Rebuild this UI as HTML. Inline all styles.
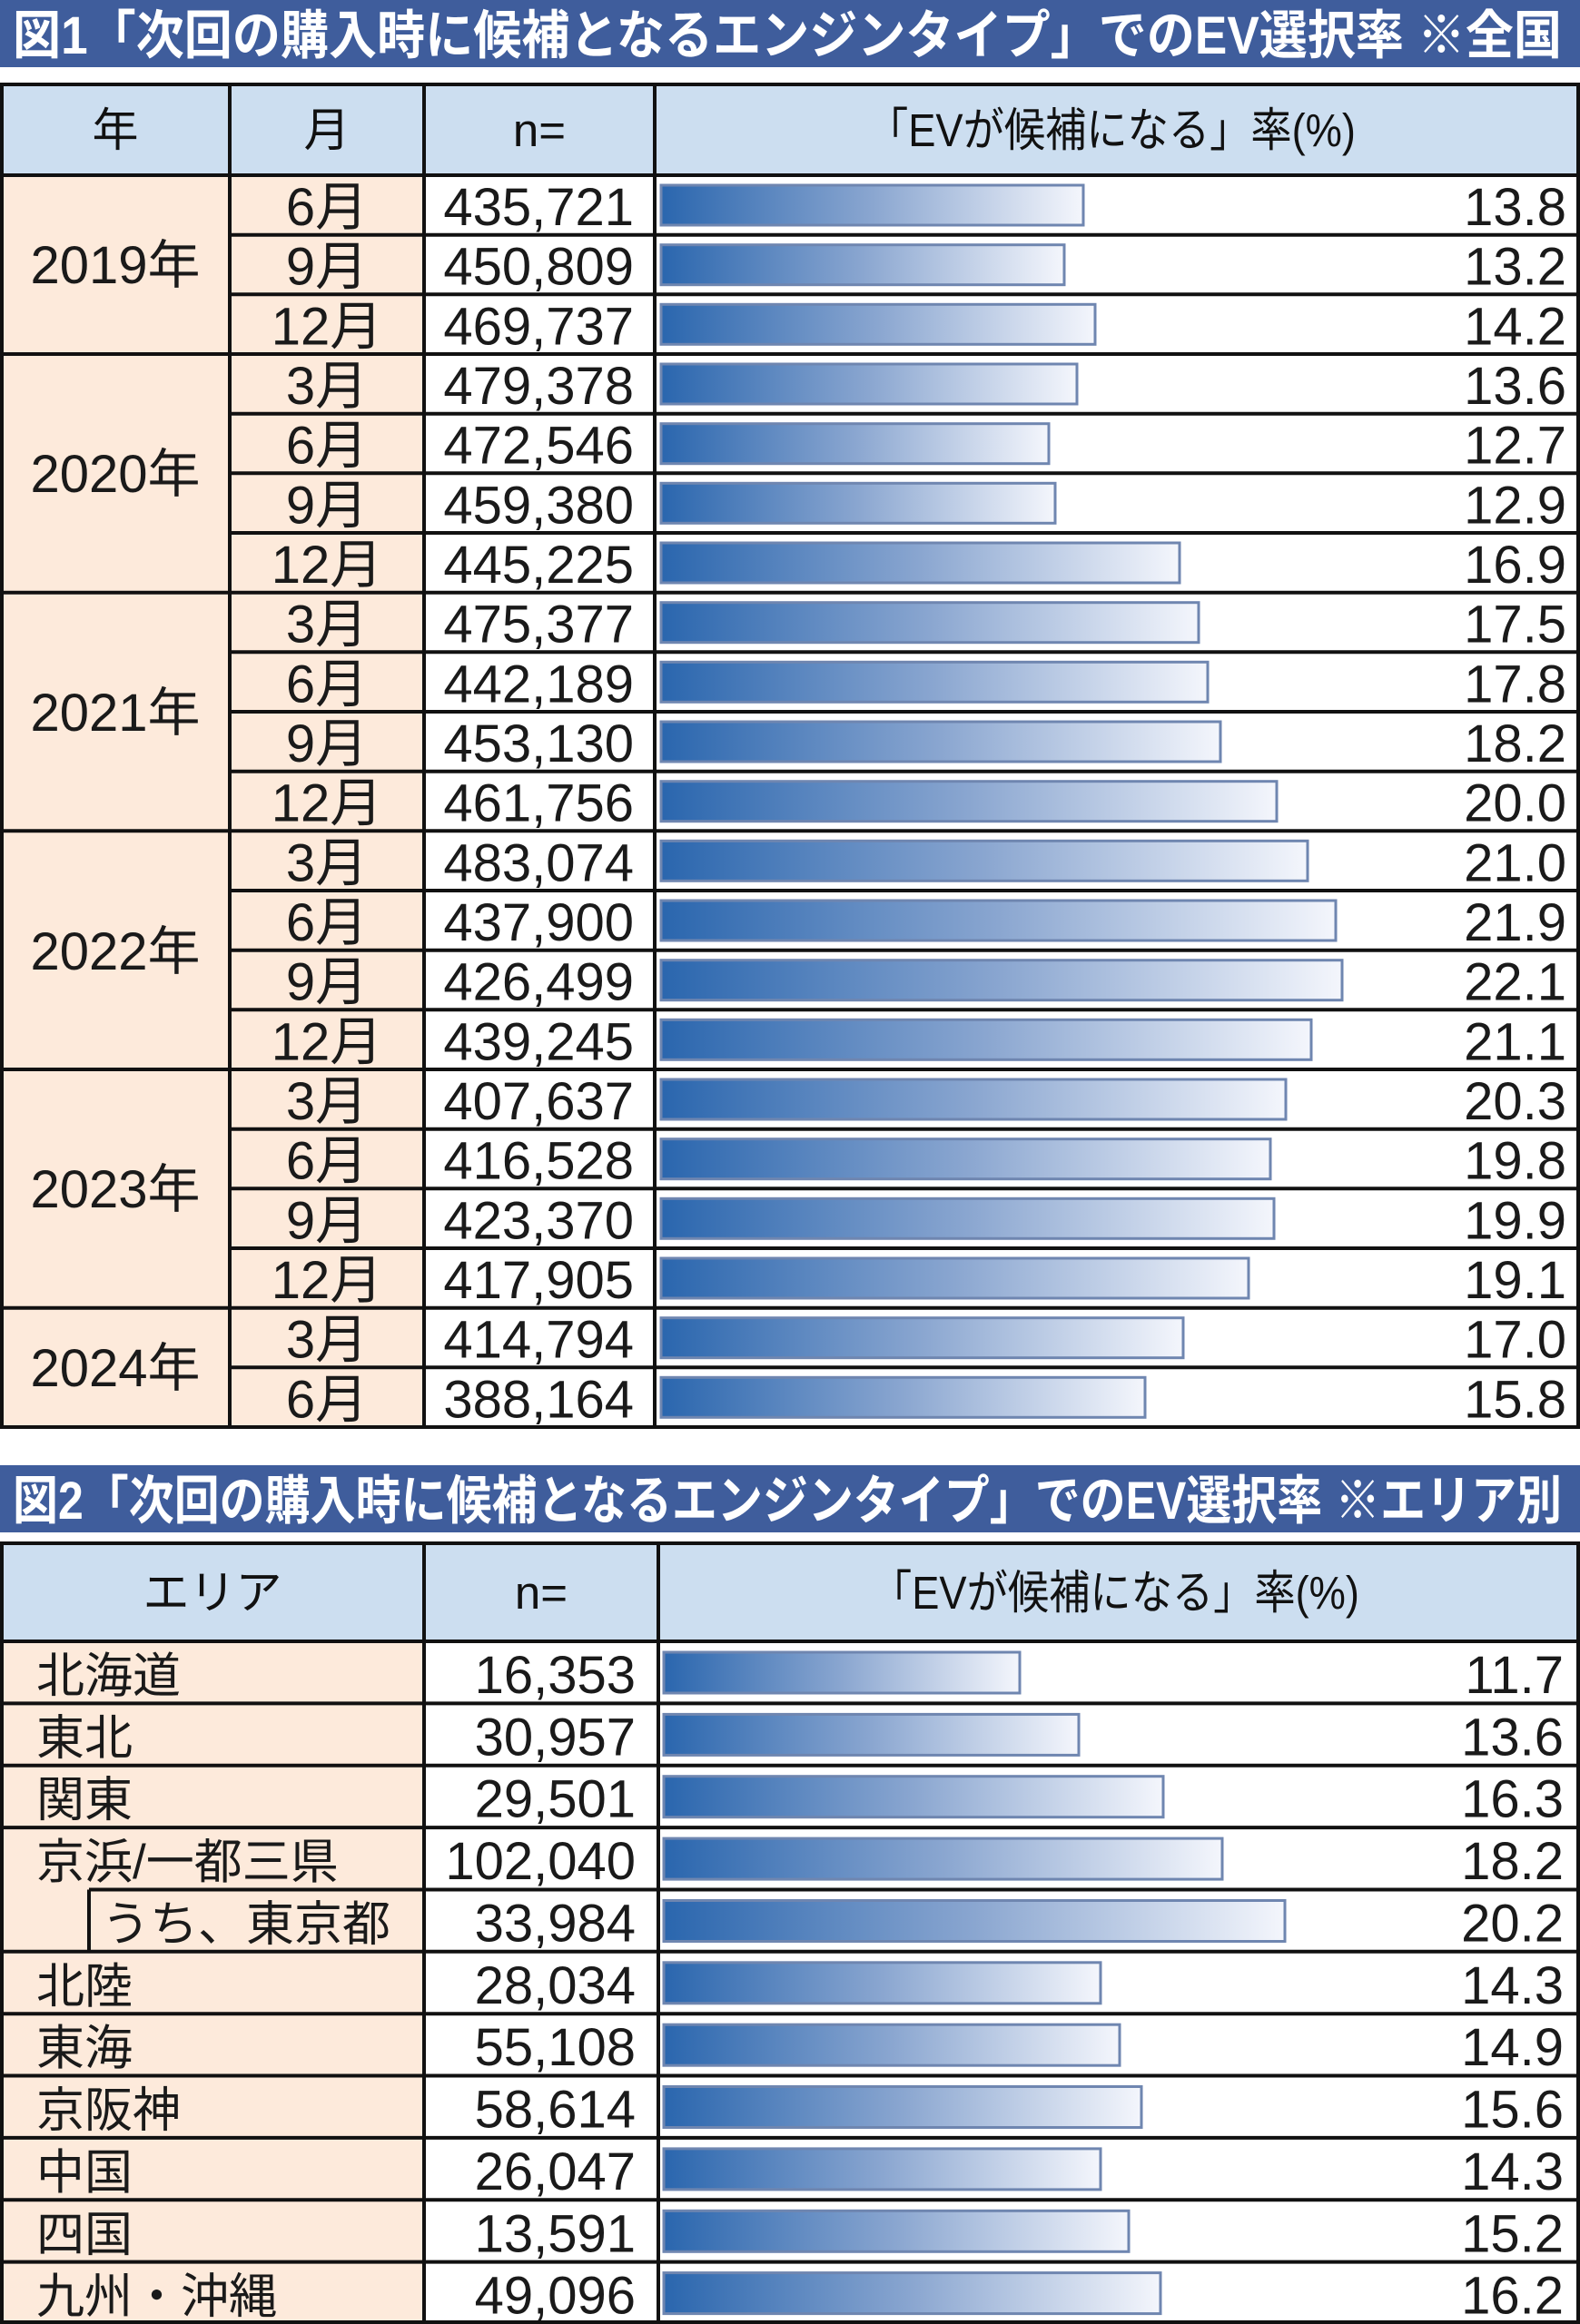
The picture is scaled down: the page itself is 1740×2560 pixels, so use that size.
<!DOCTYPE html>
<html><head><meta charset="utf-8"><style>
html,body{margin:0;padding:0;background:#fff}
svg{display:block}
.t{font-family:"Liberation Sans","Noto Sans CJK JP",sans-serif;font-weight:bold;fill:#fff;font-size:58px}
.h{font-family:"Liberation Sans","Noto Sans CJK JP",sans-serif;font-size:51px;fill:#111}
.n{font-family:"Liberation Sans","Noto Sans CJK JP",sans-serif;font-size:58px;fill:#1a1a1a}
.c{font-family:"Liberation Sans","Noto Sans CJK JP",sans-serif;font-size:53px;fill:#1a1a1a}
.bar{fill:url(#g);stroke:#6f86b0;stroke-width:3}
.m{text-anchor:middle}.r{text-anchor:end}
</style></head><body>
<svg width="1740" height="2560" viewBox="0 0 1740 2560" xmlns="http://www.w3.org/2000/svg">
<defs><linearGradient id="g" x1="0" x2="1" y1="0" y2="0"><stop offset="0" stop-color="#2a66ae"/><stop offset="0.5" stop-color="#8aa6d0"/><stop offset="1" stop-color="#f4f6fc"/></linearGradient></defs>

<!-- FIG 1 -->
<rect x="0" y="0" width="1740" height="74" fill="#3f5d9c"/>
<text class="t" x="14" y="59" textLength="1706" lengthAdjust="spacingAndGlyphs">図1「次回の購入時に候補となるエンジンタイプ」でのEV選択率 ※全国</text>
<rect x="2" y="93" width="1736" height="100" fill="#ccdef0"/>
<rect x="2" y="193" width="465" height="1379" fill="#fdeadb"/>
<rect x="467" y="193" width="1271" height="1379" fill="#fff"/>
<text class="h m" x="127" y="161">年</text>
<text class="h m" x="360" y="161">月</text>
<text class="h m" x="594" y="161">n=</text>
<text class="h m" x="1224" y="161" textLength="538" lengthAdjust="spacingAndGlyphs">「EVが候補になる」率(%)</text>

<g transform="translate(0,193)"><text class="n m" x="360" y="55">6月</text><text class="n r" x="698" y="55">435,721</text><rect class="bar" x="728" y="11" width="465" height="44"/><text class="n r" x="1725" y="55">13.8</text></g>
<g transform="translate(0,258.7)"><text class="n m" x="360" y="55">9月</text><text class="n r" x="698" y="55">450,809</text><rect class="bar" x="728" y="11" width="444" height="44"/><text class="n r" x="1725" y="55">13.2</text></g>
<g transform="translate(0,324.3)"><text class="n m" x="360" y="55">12月</text><text class="n r" x="698" y="55">469,737</text><rect class="bar" x="728" y="11" width="478" height="44"/><text class="n r" x="1725" y="55">14.2</text></g>
<g transform="translate(0,390)"><text class="n m" x="360" y="55">3月</text><text class="n r" x="698" y="55">479,378</text><rect class="bar" x="728" y="11" width="458" height="44"/><text class="n r" x="1725" y="55">13.6</text></g>
<g transform="translate(0,455.7)"><text class="n m" x="360" y="55">6月</text><text class="n r" x="698" y="55">472,546</text><rect class="bar" x="728" y="11" width="427" height="44"/><text class="n r" x="1725" y="55">12.7</text></g>
<g transform="translate(0,521.3)"><text class="n m" x="360" y="55">9月</text><text class="n r" x="698" y="55">459,380</text><rect class="bar" x="728" y="11" width="434" height="44"/><text class="n r" x="1725" y="55">12.9</text></g>
<g transform="translate(0,587)"><text class="n m" x="360" y="55">12月</text><text class="n r" x="698" y="55">445,225</text><rect class="bar" x="728" y="11" width="571" height="44"/><text class="n r" x="1725" y="55">16.9</text></g>
<g transform="translate(0,652.7)"><text class="n m" x="360" y="55">3月</text><text class="n r" x="698" y="55">475,377</text><rect class="bar" x="728" y="11" width="592" height="44"/><text class="n r" x="1725" y="55">17.5</text></g>
<g transform="translate(0,718.3)"><text class="n m" x="360" y="55">6月</text><text class="n r" x="698" y="55">442,189</text><rect class="bar" x="728" y="11" width="602" height="44"/><text class="n r" x="1725" y="55">17.8</text></g>
<g transform="translate(0,784)"><text class="n m" x="360" y="55">9月</text><text class="n r" x="698" y="55">453,130</text><rect class="bar" x="728" y="11" width="616" height="44"/><text class="n r" x="1725" y="55">18.2</text></g>
<g transform="translate(0,849.7)"><text class="n m" x="360" y="55">12月</text><text class="n r" x="698" y="55">461,756</text><rect class="bar" x="728" y="11" width="678" height="44"/><text class="n r" x="1725" y="55">20.0</text></g>
<g transform="translate(0,915.3)"><text class="n m" x="360" y="55">3月</text><text class="n r" x="698" y="55">483,074</text><rect class="bar" x="728" y="11" width="712" height="44"/><text class="n r" x="1725" y="55">21.0</text></g>
<g transform="translate(0,981)"><text class="n m" x="360" y="55">6月</text><text class="n r" x="698" y="55">437,900</text><rect class="bar" x="728" y="11" width="743" height="44"/><text class="n r" x="1725" y="55">21.9</text></g>
<g transform="translate(0,1046.7)"><text class="n m" x="360" y="55">9月</text><text class="n r" x="698" y="55">426,499</text><rect class="bar" x="728" y="11" width="750" height="44"/><text class="n r" x="1725" y="55">22.1</text></g>
<g transform="translate(0,1112.3)"><text class="n m" x="360" y="55">12月</text><text class="n r" x="698" y="55">439,245</text><rect class="bar" x="728" y="11" width="716" height="44"/><text class="n r" x="1725" y="55">21.1</text></g>
<g transform="translate(0,1178)"><text class="n m" x="360" y="55">3月</text><text class="n r" x="698" y="55">407,637</text><rect class="bar" x="728" y="11" width="688" height="44"/><text class="n r" x="1725" y="55">20.3</text></g>
<g transform="translate(0,1243.7)"><text class="n m" x="360" y="55">6月</text><text class="n r" x="698" y="55">416,528</text><rect class="bar" x="728" y="11" width="671" height="44"/><text class="n r" x="1725" y="55">19.8</text></g>
<g transform="translate(0,1309.3)"><text class="n m" x="360" y="55">9月</text><text class="n r" x="698" y="55">423,370</text><rect class="bar" x="728" y="11" width="675" height="44"/><text class="n r" x="1725" y="55">19.9</text></g>
<g transform="translate(0,1375)"><text class="n m" x="360" y="55">12月</text><text class="n r" x="698" y="55">417,905</text><rect class="bar" x="728" y="11" width="647" height="44"/><text class="n r" x="1725" y="55">19.1</text></g>
<g transform="translate(0,1440.7)"><text class="n m" x="360" y="55">3月</text><text class="n r" x="698" y="55">414,794</text><rect class="bar" x="728" y="11" width="575" height="44"/><text class="n r" x="1725" y="55">17.0</text></g>
<g transform="translate(0,1506.3)"><text class="n m" x="360" y="55">6月</text><text class="n r" x="698" y="55">388,164</text><rect class="bar" x="728" y="11" width="533" height="44"/><text class="n r" x="1725" y="55">15.8</text></g>

<text class="n m" x="127" y="312">2019年</text>
<text class="n m" x="127" y="542">2020年</text>
<text class="n m" x="127" y="805">2021年</text>
<text class="n m" x="127" y="1068">2022年</text>
<text class="n m" x="127" y="1330">2023年</text>
<text class="n m" x="127" y="1527">2024年</text>

<g stroke="#111" stroke-width="4" fill="none">
<rect x="2" y="93" width="1736" height="1479"/>
<line x1="0" y1="193" x2="1740" y2="193"/>
<line x1="253" y1="258.7" x2="1740" y2="258.7"/>
<line x1="253" y1="324.3" x2="1740" y2="324.3"/>
<line x1="0" y1="390" x2="1740" y2="390"/>
<line x1="253" y1="455.7" x2="1740" y2="455.7"/>
<line x1="253" y1="521.3" x2="1740" y2="521.3"/>
<line x1="253" y1="587" x2="1740" y2="587"/>
<line x1="0" y1="652.7" x2="1740" y2="652.7"/>
<line x1="253" y1="718.3" x2="1740" y2="718.3"/>
<line x1="253" y1="784" x2="1740" y2="784"/>
<line x1="253" y1="849.7" x2="1740" y2="849.7"/>
<line x1="0" y1="915.3" x2="1740" y2="915.3"/>
<line x1="253" y1="981" x2="1740" y2="981"/>
<line x1="253" y1="1046.7" x2="1740" y2="1046.7"/>
<line x1="253" y1="1112.3" x2="1740" y2="1112.3"/>
<line x1="0" y1="1178" x2="1740" y2="1178"/>
<line x1="253" y1="1243.7" x2="1740" y2="1243.7"/>
<line x1="253" y1="1309.3" x2="1740" y2="1309.3"/>
<line x1="253" y1="1375" x2="1740" y2="1375"/>
<line x1="0" y1="1440.7" x2="1740" y2="1440.7"/>
<line x1="253" y1="1506.3" x2="1740" y2="1506.3"/>
<line x1="253" y1="93" x2="253" y2="1572"/>
<line x1="467" y1="93" x2="467" y2="1572"/>
<line x1="721" y1="93" x2="721" y2="1572"/>
</g>

<!-- FIG 2 -->
<rect x="0" y="1614" width="1740" height="74" fill="#3f5d9c"/>
<text class="t" x="14" y="1673" textLength="1706" lengthAdjust="spacingAndGlyphs">図2「次回の購入時に候補となるエンジンタイプ」でのEV選択率 ※エリア別</text>
<rect x="2" y="1700" width="1736" height="108" fill="#ccdef0"/>
<rect x="2" y="1808" width="465" height="752" fill="#fdeadb"/>
<rect x="467" y="1808" width="1271" height="752" fill="#fff"/>
<text class="h m" x="234" y="1772">エリア</text>
<text class="h m" x="596" y="1772">n=</text>
<text class="h m" x="1228" y="1772" textLength="538" lengthAdjust="spacingAndGlyphs">「EVが候補になる」率(%)</text>

<g transform="translate(0,1808)"><text class="c" x="40" y="56">北海道</text><text class="n r" x="700" y="57">16,353</text><rect class="bar" x="731" y="12" width="392" height="45"/><text class="n r" x="1722" y="57">11.7</text></g>
<g transform="translate(0,1876.4)"><text class="c" x="40" y="56">東北</text><text class="n r" x="700" y="57">30,957</text><rect class="bar" x="731" y="12" width="457" height="45"/><text class="n r" x="1722" y="57">13.6</text></g>
<g transform="translate(0,1944.7)"><text class="c" x="40" y="56">関東</text><text class="n r" x="700" y="57">29,501</text><rect class="bar" x="731" y="12" width="550" height="45"/><text class="n r" x="1722" y="57">16.3</text></g>
<g transform="translate(0,2013.1)"><text class="c" x="40" y="56">京浜/一都三県</text><text class="n r" x="700" y="57">102,040</text><rect class="bar" x="731" y="12" width="615" height="45"/><text class="n r" x="1722" y="57">18.2</text></g>
<g transform="translate(0,2081.5)"><text class="c" x="112" y="56">うち、東京都</text><text class="n r" x="700" y="57">33,984</text><rect class="bar" x="731" y="12" width="684" height="45"/><text class="n r" x="1722" y="57">20.2</text></g>
<g transform="translate(0,2149.8)"><text class="c" x="40" y="56">北陸</text><text class="n r" x="700" y="57">28,034</text><rect class="bar" x="731" y="12" width="481" height="45"/><text class="n r" x="1722" y="57">14.3</text></g>
<g transform="translate(0,2218.2)"><text class="c" x="40" y="56">東海</text><text class="n r" x="700" y="57">55,108</text><rect class="bar" x="731" y="12" width="502" height="45"/><text class="n r" x="1722" y="57">14.9</text></g>
<g transform="translate(0,2286.5)"><text class="c" x="40" y="56">京阪神</text><text class="n r" x="700" y="57">58,614</text><rect class="bar" x="731" y="12" width="526" height="45"/><text class="n r" x="1722" y="57">15.6</text></g>
<g transform="translate(0,2354.9)"><text class="c" x="40" y="56">中国</text><text class="n r" x="700" y="57">26,047</text><rect class="bar" x="731" y="12" width="481" height="45"/><text class="n r" x="1722" y="57">14.3</text></g>
<g transform="translate(0,2423.3)"><text class="c" x="40" y="56">四国</text><text class="n r" x="700" y="57">13,591</text><rect class="bar" x="731" y="12" width="512" height="45"/><text class="n r" x="1722" y="57">15.2</text></g>
<g transform="translate(0,2491.6)"><text class="c" x="40" y="56">九州・沖縄</text><text class="n r" x="700" y="57">49,096</text><rect class="bar" x="731" y="12" width="547" height="45"/><text class="n r" x="1722" y="57">16.2</text></g>

<g stroke="#111" stroke-width="4" fill="none">
<rect x="2" y="1700" width="1736" height="858"/>
<line x1="0" y1="1808" x2="1740" y2="1808"/>
<line x1="0" y1="1876.4" x2="1740" y2="1876.4"/>
<line x1="0" y1="1944.7" x2="1740" y2="1944.7"/>
<line x1="0" y1="2013.1" x2="1740" y2="2013.1"/>
<line x1="98" y1="2081.5" x2="1740" y2="2081.5"/>
<line x1="98" y1="2081.5" x2="98" y2="2149.8"/>
<line x1="0" y1="2149.8" x2="1740" y2="2149.8"/>
<line x1="0" y1="2218.2" x2="1740" y2="2218.2"/>
<line x1="0" y1="2286.5" x2="1740" y2="2286.5"/>
<line x1="0" y1="2354.9" x2="1740" y2="2354.9"/>
<line x1="0" y1="2423.3" x2="1740" y2="2423.3"/>
<line x1="0" y1="2491.6" x2="1740" y2="2491.6"/>
<line x1="467" y1="1700" x2="467" y2="2560"/>
<line x1="725" y1="1700" x2="725" y2="2560"/>
</g>
</svg>
</body></html>
